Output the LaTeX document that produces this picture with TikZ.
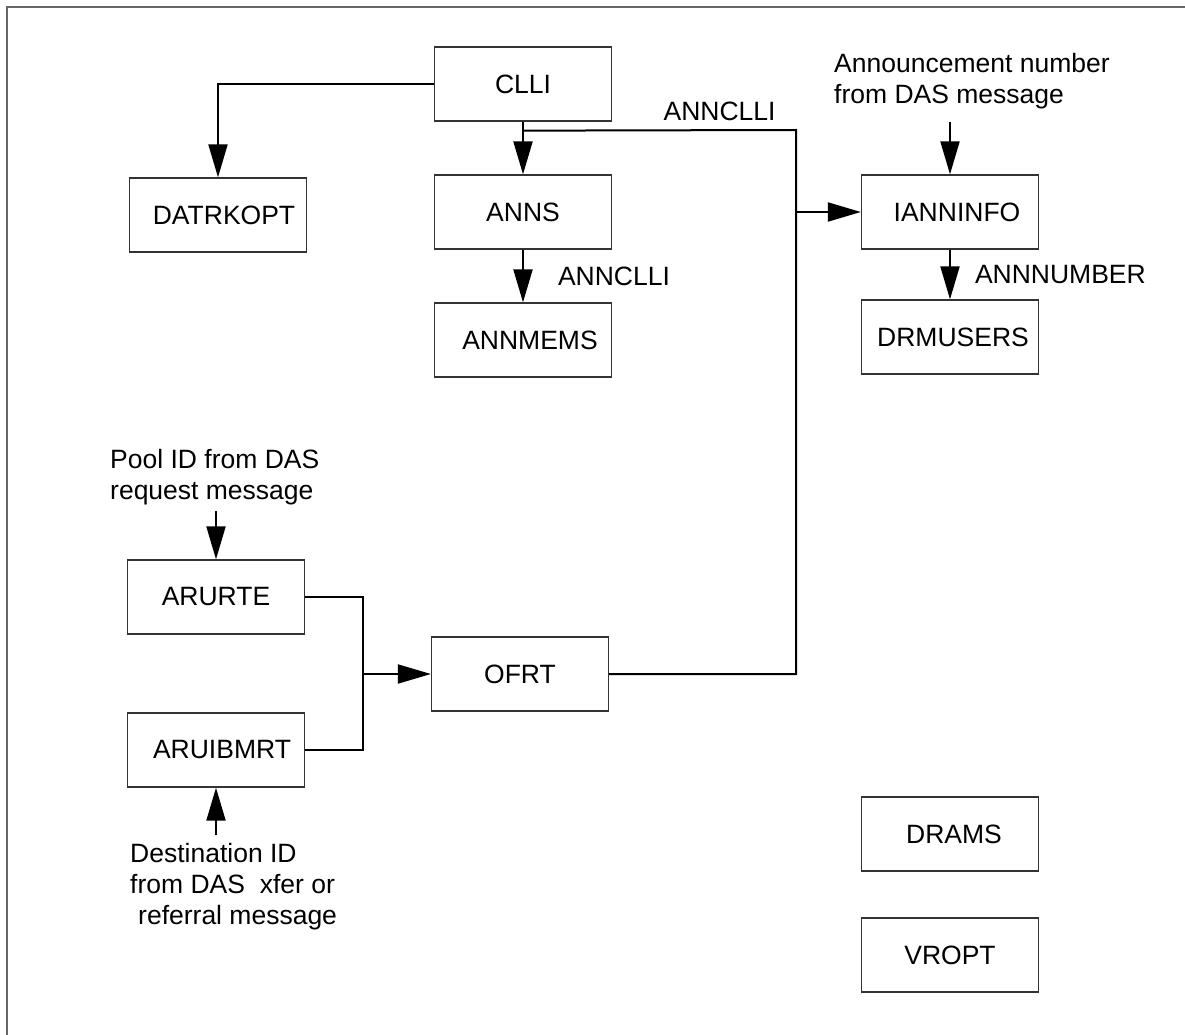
\documentclass[tikz,border=0pt]{standalone}
\usepackage{fontspec}
\setmainfont{Liberation Sans}
\usepackage{tikz}
\usetikzlibrary{positioning,arrows.meta,calc}
\tikzset{
  tblbox/.style={draw=black!80,line width=1.3pt,minimum width=177pt,minimum height=74pt,inner sep=0pt,font=\fontsize{26.5}{31}\selectfont},
  notetext/.style={inner sep=0pt,align=left,font=\fontsize{26.5}{31}\selectfont},
  datalink/.style={draw,line width=2pt},
}

\begin{document}
\begin{tikzpicture}[x=1pt,y=-1pt,>={Triangle[length=33pt,width=19pt]},node distance=128pt]

\useasboundingbox (0,0) rectangle (1185,1035);
\draw[black!60,line width=2pt] (7,7) rectangle (1200,1050);

\node[tblbox] (CLLI) at (523,84) {CLLI};
\node[tblbox] (DATRKOPT) at (218,215) {\hspace{12pt}DATRKOPT};
\node[tblbox,below of=CLLI] (ANNS) {ANNS};
\node[tblbox,below of=ANNS] (ANNMEMS) {\hspace{14pt}ANNMEMS};
\node[tblbox] (IANNINFO) at (950,212) {\hspace{14pt}IANNINFO};
\node[tblbox,below of=IANNINFO,node distance=125pt] (DRMUSERS) {\hspace{6pt}DRMUSERS};
\node[tblbox] (ARURTE) at (216,597) {ARURTE\hspace{12pt}};
\node[tblbox,below of=ARURTE,node distance=153pt] (ARUIBMRT) {\hspace{12pt}ARUIBMRT};
\node[tblbox] (OFRT) at (520,674) {OFRT};
\node[tblbox] (DRAMS) at (950,834) {\hspace{8pt}DRAMS};
\node[tblbox,below of=DRAMS,node distance=121pt] (VROPT) {VROPT};

\node[notetext,anchor=west] (anntext) at (834,81) {Announcement number\\from DAS message};
\node[notetext,anchor=west] (pooltext) at (110,477) {Pool ID from DAS\\request message};
\node[notetext,anchor=west] (desttext) at (130,887) {Destination ID\\from DAS\ \ xfer or\\\hspace{8pt}referral message};

\coordinate[below=9pt of CLLI.south] (split);
\coordinate (bustop) at (796,130);
\coordinate (merge) at (363,674);

\path[datalink,->]
(CLLI.west) -| (DATRKOPT.north);
\path[datalink,->]
(CLLI.south) -- (ANNS.north);
\path[datalink]
(split) -- node[notetext,above=8pt,pos=0.72] {ANNCLLI} (bustop)
  -- (OFRT.east -| bustop) -- (OFRT.east);
\path[datalink,->]
(IANNINFO.west -| bustop) -- (IANNINFO.west);
\path[datalink,->]
(ANNS) -- node[notetext,right=34pt] {ANNCLLI} (ANNMEMS);
\path[datalink,->]
(IANNINFO) -- node[notetext,right=24pt] {ANNNUMBER} (DRMUSERS);
\path[datalink,->,shorten <=13pt]
(anntext.south -| IANNINFO) -- (IANNINFO.north);
\path[datalink,->,shorten <=6pt]
(pooltext.south -| ARURTE) -- (ARURTE.north);
\path[datalink,->,shorten <=8pt]
(desttext.north -| ARUIBMRT) -- (ARUIBMRT.south);
\path[datalink]
(ARURTE.east) -- (ARURTE.east -| merge) -- (ARUIBMRT.east -| merge) -- (ARUIBMRT.east);
\path[datalink,->]
(merge) -- (OFRT.west);

\end{tikzpicture}
\end{document}
